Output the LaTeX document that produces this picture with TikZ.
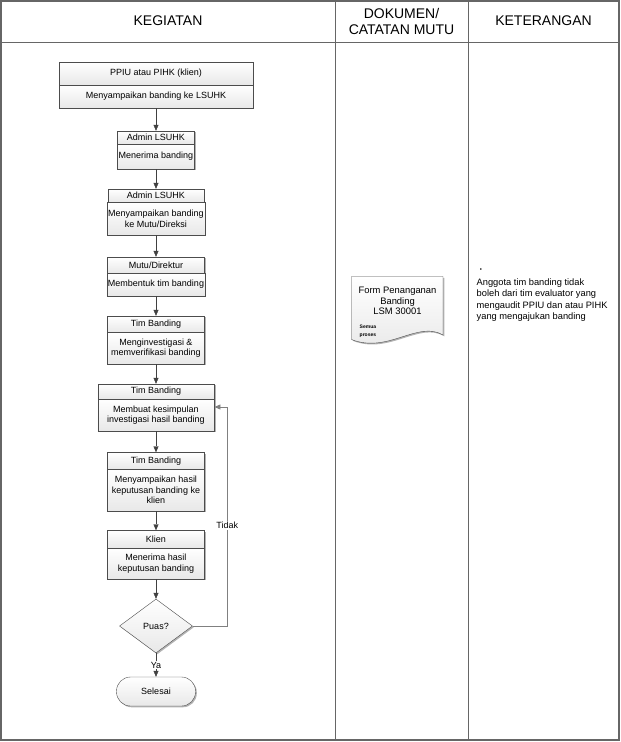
\documentclass[tikz,border=0pt]{standalone}
\usepackage{fontspec}
\setmainfont{Liberation Sans}
\usetikzlibrary{shapes.geometric,arrows.meta,shadows}

\tikzset{
  part/.style={draw=black!70, top color=white, bottom color=black!9, inner sep=1pt, align=center,
    font=\fontsize{9}{10.5}\selectfont,
    drop shadow={shadow xshift=1.3pt, shadow yshift=-1.3pt, fill=black!50, opacity=0.6}},
  decision/.style={part, diamond, minimum width=73pt, minimum height=54pt, inner sep=0pt},
  terminal/.style={part, rounded corners=14pt, minimum width=79pt, minimum height=29pt},
  flow/.style={draw=black!75, -{Triangle[length=6pt,width=5pt]}},
  back/.style={draw=black!50, line width=0.9pt, -{Triangle[length=6pt,width=5pt]}},
  frame/.style={draw=black!60, line width=1.6pt},
  rule/.style={draw=black!60, line width=1pt},
  colhead/.style={font=\fontsize{14}{16}\selectfont, align=center},
  tag/.style={fill=white, inner sep=1pt, font=\fontsize{9}{10.5}\selectfont},
}

\begin{document}
\begin{tikzpicture}[x=1pt, y=-1pt]
\useasboundingbox (0,0) rectangle (621,742);
% table
\draw[frame] (1,1) rectangle (619,740);
\draw[rule] (1,42) -- (619,42);
\draw[rule] (335,1) -- (335,740);
\draw[rule] (468,1) -- (468,740);
\node[colhead] (kegiatan) at (168,21) {KEGIATAN};
\node[colhead] (dokumen) at (401.5,21) {DOKUMEN/\\CATATAN MUTU};
\node[colhead] (keterangan) at (543.5,21) {KETERANGAN};

% kegiatan
\node[part, minimum width=194pt, minimum height=23pt] (h1) at (156,73.5) {PPIU atau PIHK (klien)};
\node[part, minimum width=194pt, minimum height=23pt] (b1) at (156,96.5) {Menyampaikan banding ke LSUHK};
\node[part, minimum width=77pt, minimum height=13pt] (h2) at (156,137.5) {Admin LSUHK};
\node[part, minimum width=77pt, minimum height=25pt] (b2) at (156,156.5) {Menerima banding};
\node[part, minimum width=96pt, minimum height=13.5pt] (h3) at (156,195.75) {Admin LSUHK};
\node[part, minimum width=96pt, minimum height=32.5pt] (b3) at (156,218.75) {Menyampaikan banding\\ke Mutu/Direksi};
\node[part, minimum width=97pt, minimum height=16pt] (h4) at (156,265) {Mutu/Direktur};
\node[part, minimum width=97pt, minimum height=23pt] (b4) at (156,284.5) {Membentuk tim banding};
\node[part, minimum width=97pt, minimum height=16.5pt] (h5) at (156,324.25) {Tim Banding};
\node[part, minimum width=97pt, minimum height=31.5pt] (b5) at (156,348.25) {Menginvestigasi \&\\memverifikasi banding};
\node[part, minimum width=116.5pt, minimum height=15pt] (h6) at (156,391.5) {Tim Banding};
\node[part, minimum width=116.5pt, minimum height=32pt] (b6) at (156,415) {Membuat kesimpulan\\investigasi hasil banding};
\node[part, minimum width=97pt, minimum height=16.5pt] (h7) at (156,460.75) {Tim Banding};
\node[part, minimum width=97pt, minimum height=42pt] (b7) at (156,490) {Menyampaikan hasil\\keputusan banding ke\\klien};
\node[part, minimum width=97pt, minimum height=17.5pt] (h8) at (156,539.25) {Klien};
\node[part, minimum width=97pt, minimum height=31pt] (b8) at (156,563.5) {Menerima hasil\\keputusan banding};
\node[decision] (puas) at (156,626) {Puas?};
\node[terminal] (selesai) at (156,691.5) {Selesai};

\draw[flow] (b1) -- (h2);
\draw[flow] (b2) -- (h3);
\draw[flow] (b3) -- (h4);
\draw[flow] (b4) -- (h5);
\draw[flow] (b5) -- (h6);
\draw[flow] (b6) -- (h7);
\draw[flow] (b7) -- (h8);
\draw[flow] (b8) -- (puas);
\draw[flow] (puas) -- node[tag] {Ya} (selesai);
\draw[back] (puas.east) -- ++(34.5,0) |- node[tag, pos=0.23] {Tidak} ([yshift=8pt]b6.east);

% dokumen
\draw[draw=black!70, top color=white, bottom color=black!9,
  drop shadow={shadow xshift=1.3pt, shadow yshift=-1.3pt, fill=black!50, opacity=0.6}]
  (351.5,276.5) -- (443,276.5) -- (443,335) .. controls (418,320) and (388,354) .. (351.5,339.5) -- cycle;
\node[font=\fontsize{9.4}{10.8}\selectfont, align=center] (form) at (397.5,301) {Form Penanganan\\Banding\\LSM 30001};
\node[font=\fontsize{5}{8}\selectfont\bfseries, align=left, anchor=west, inner sep=0pt] (semua) at (359.5,331) {Semua\\proses};

% keterangan
\node[font=\fontsize{6}{7}\selectfont, inner sep=0pt] (dot) at (481,270) {•};
\node[font=\fontsize{9.3}{11.4}\selectfont, align=left, anchor=north west, inner sep=0pt] (ket) at (476.5,278.5)
  {Anggota tim banding tidak\\boleh dari tim evaluator yang\\mengaudit PPIU dan atau PIHK\\yang mengajukan banding};
\end{tikzpicture}
\end{document}
